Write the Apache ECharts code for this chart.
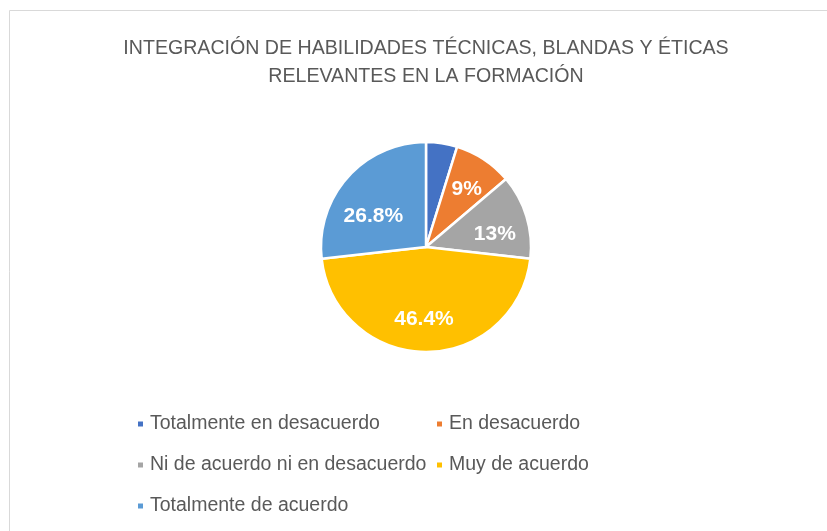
<!DOCTYPE html>
<html>
<head>
<meta charset="utf-8">
<script src="https://cdn.jsdelivr.net/npm/echarts@6/dist/echarts.min.js"></script>
<style>
  html, body { margin: 0; padding: 0; background: #fff; }
  #chart { width: 827px; height: 531px; }
</style>
</head>
<body>
<div id="chart"></div>
<script>
// datos del gráfico
const categorias = ['Totalmente en desacuerdo', 'En desacuerdo', 'Ni de acuerdo ni en desacuerdo', 'Muy de acuerdo', 'Totalmente de acuerdo'];
const valores = [4.8, 9, 13, 46.4, 26.8];
const etiquetas = ['', '9%', '13%', '46.4%', '26.8%'];
const colores = ['#4472C4', '#ED7D31', '#A5A5A5', '#FFC000', '#5B9BD5'];

const fuente = 'Liberation Sans';
const gris = '#595959';

// pequeño ajuste de las etiquetas como en Excel
const desplaz = [[0, 0], [1, 2], [0, 8], [-2, 0], [1, 17]];

let datos = categorias.map((c, i) => ({ name: c, value: valores[i], itemStyle: { color: colores[i] } }));
let datosEtiq = categorias.map((c, i) => ({
  name: c,
  value: valores[i],
  label: { formatter: etiquetas[i], offset: desplaz[i] }
}));

const leyendaBase = {
  orient: 'vertical',
  icon: 'rect',
  itemWidth: 7,
  itemHeight: 7,
  itemGap: 21,
  textStyle: { fontFamily: fuente, fontSize: 19.5, color: gris, padding: [0, 0, 0, 1] }
};

let myChart = echarts.init(document.getElementById('chart'));
myChart.setOption({
  animation: false,
  title: {
    text: 'INTEGRACIÓN DE HABILIDADES TÉCNICAS, BLANDAS Y ÉTICAS\nRELEVANTES EN LA FORMACIÓN',
    left: 421,
    textAlign: 'center',
    top: 30,
    textStyle: { fontFamily: fuente, fontSize: 19.6, fontWeight: 'normal', color: gris, lineHeight: 28 }
  },
  graphic: [{
    type: 'rect',
    shape: { x: 9.5, y: 10.5, width: 840, height: 540 },
    style: { fill: null, stroke: '#d9d9d9', lineWidth: 1 },
    silent: true
  }],
  legend: [
    Object.assign({}, leyendaBase, { left: 131, top: 409, data: [categorias[0], categorias[2], categorias[4]] }),
    Object.assign({}, leyendaBase, { left: 430, top: 409, data: [categorias[1], categorias[3]] })
  ],
  series: [
    {
      type: 'pie',
      center: [426, 247],
      radius: 105,
      startAngle: 90,
      clockwise: true,
      data: datos,
      label: { show: false },
      labelLine: { show: false },
      itemStyle: { borderColor: '#fff', borderWidth: 2.5 },
      silent: true
    },
    {
      // serie invisible sólo para colocar las etiquetas a ~2/3 del radio
      type: 'pie',
      center: [426, 247],
      radius: 138,
      startAngle: 90,
      clockwise: true,
      data: datosEtiq,
      itemStyle: { color: 'rgba(0,0,0,0)' },
      label: {
        show: true,
        position: 'inside',
        color: '#fff',
        fontFamily: fuente,
        fontSize: 21,
        fontWeight: 'bold'
      },
      labelLine: { show: false },
      silent: true
    }
  ]
});
</script>
</body>
</html>
